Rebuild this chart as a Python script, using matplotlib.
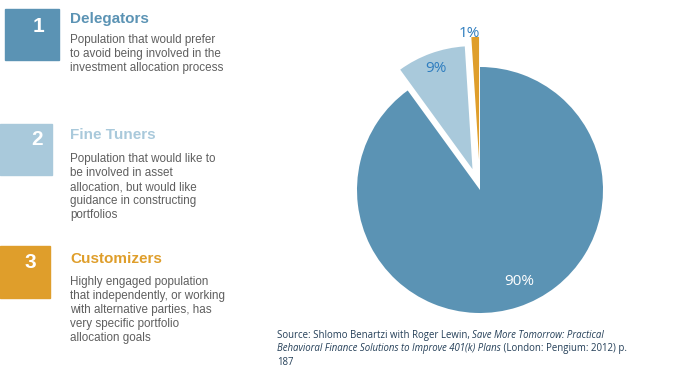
import numpy as np
import matplotlib.pyplot as plt
from matplotlib.patches import Rectangle

W, H = 673, 375

# dati
segmenti = ["Delegators", "Fine Tuners", "Customizers"]
percentuali = [90, 9, 1]
etichette_pct = ["90%", "9%", "1%"]
numeri = ["1", "2", "3"]
descrizioni = [
    ["Population that would prefer", "to avoid being involved in the",
     "investment allocation process"],
    ["Population that would like to", "be involved in asset",
     "allocation, but would like", "guidance in constructing", "portfolios"],
    ["Highly engaged population", "that independently, or working",
     "with alternative parties, has", "very specific portfolio",
     "allocation goals"],
]

colori = ["#5b93b4", "#a9c9db", "#df9e2b"]
blu_testo = "#2e7dbf"
grigio = "#5f5f5f"
blu_fonte = "#243f58"


def fx(x):
    return x / W


def fy(y):
    return 1 - y / H


fig = plt.figure(figsize=(W / 100, H / 100), dpi=100)

# ---- riquadri numerati a sinistra
box = [(5, 9, 54, 51), (0, 124, 52, 51), (0, 246, 50, 52)]
pos_num = [(38, 26), (37, 140), (30, 263)]
y_titolo = [23, 139, 263]
y_testo = [43, 162, 285]
for i in range(3):
    x0, y0, w, h = box[i]
    fig.patches.append(Rectangle((fx(x0), fy(y0 + h)), w / W, h / H,
                                 transform=fig.transFigure, color=colori[i]))
    fig.text(fx(pos_num[i][0]), fy(pos_num[i][1]), numeri[i], color="white",
             fontsize=15, fontweight="bold", family="Liberation Sans",
             ha="center", va="center")
    fig.text(fx(70), fy(y_titolo[i]), segmenti[i], color=colori[i],
             fontsize=11, fontweight="bold", family="Liberation Sans",
             va="baseline")
    for k, riga in enumerate(descrizioni[i]):
        fig.text(fx(70), fy(y_testo[i] + 14 * k), riga, color=grigio,
                 fontsize=8.4, family="Liberation Sans", va="baseline")

# ---- torta
r_px = 123
cx, cy = 480, 190
lim = 1.3
ax = fig.add_axes([fx(cx - lim * r_px), fy(cy + lim * r_px),
                   2 * lim * r_px / W, 2 * lim * r_px / H])
wedges, _ = ax.pie(percentuali, colors=colori, startangle=90,
                   counterclock=False, explode=[0, 0.18, 0.245])
ax.set_xlim(-lim, lim)
ax.set_ylim(-lim, lim)
ax.axis("off")

dist_lab = [0.81, 0.87, 1.03]
spost_ang = [5.5, 0, 2.5]
col_lab = ["white", blu_testo, blu_testo]
for w, lab, d, da, c in zip(wedges, etichette_pct, dist_lab, spost_ang, col_lab):
    ang = np.deg2rad((w.theta1 + w.theta2) / 2 + da)
    xc, yc = w.center
    ax.text(xc + d * np.cos(ang), yc + d * np.sin(ang), lab, color=c,
            fontsize=11, family="Open Sans", ha="center", va="center")

# ---- fonte
fs = 6.95
t1 = fig.text(fx(277), fy(338), "Source: Shlomo Benartzi with Roger Lewin, ",
              color=blu_fonte, fontsize=fs, family="Open Sans", va="baseline")
plt.annotate("Save More Tomorrow: Practical", xy=(1, 0), xycoords=t1,
             color=blu_fonte, fontsize=fs, family="Open Sans",
             style="italic", va="bottom", annotation_clip=False)
t2 = fig.text(fx(277), fy(351),
              "Behavioral Finance Solutions to Improve 401(k) Plans",
              color=blu_fonte, fontsize=fs, family="Open Sans",
              style="italic", va="baseline")
plt.annotate(" (London: Pengium: 2012) p.", xy=(1, 0), xycoords=t2,
             color=blu_fonte, fontsize=fs, family="Open Sans", va="bottom",
             annotation_clip=False)
fig.text(fx(277), fy(365), "187", color=blu_fonte, fontsize=fs,
         family="Open Sans", va="baseline")

fig.savefig("out.png", dpi=100)
